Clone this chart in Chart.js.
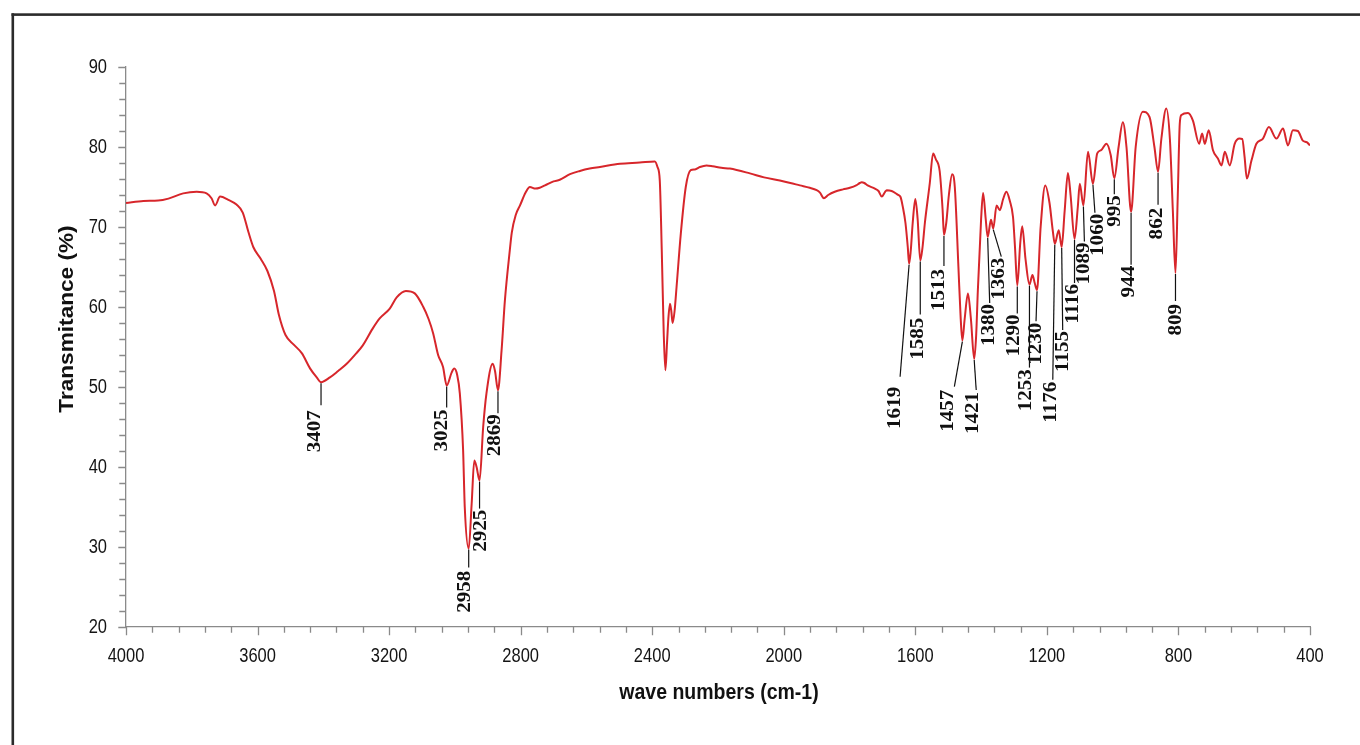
<!DOCTYPE html>
<html><head><meta charset="utf-8">
<script src="https://cdn.jsdelivr.net/npm/chart.js@4.4.0/dist/chart.umd.min.js"></script>
<style>html,body{margin:0;padding:0;background:#fff;}#wrap{width:1360px;height:745px;position:relative}</style>
</head><body><div id="wrap"><canvas id="c" width="1360" height="745"></canvas></div>
<script>
// ---- data ----
const wavenumbers = [
4000,3947,3902,3871,3826,3785,3755,3740,3729,3714,3689,3664,3645,3628,3613,3590,3570,3550,3535,3515,
3490,3465,3440,3420,3407,3380,3355,3329,3300,3280,3250,3228,3198,3177,3149,3122,3096,3080,3066,3051,
3036,3025,3010,3002,2993,2985,2975,2970,2958,2949,2941,2934,2925,2914,2904,2885,2878,2869,2858,2848,
2833,2827,2815,2802,2785,2772,2755,2742,2726,2700,2681,2650,2620,2590,2559,2498,2438,2392,2384,2377,
2371,2365,2360,2355,2351,2346,2342,2338,2332,2326,2313,2298,2283,2270,2255,2235,2216,2190,2164,2103,
2060,2012,1980,1951,1921,1900,1890,1878,1865,1845,1820,1799,1780,1769,1763,1755,1745,1723,1712,1702,
1692,1687,1672,1654,1645,1638,1630,1623,1619,1614,1608,1600,1593,1585,1578,1571,1556,1546,1538,1526,
1517,1513,1506,1498,1488,1480,1469,1462,1457,1450,1440,1431,1421,1415,1410,1400,1394,1386,1380,1370,
1363,1353,1343,1333,1323,1313,1303,1297,1290,1281,1275,1265,1253,1244,1237,1230,1219,1205,1192,1182,
1176,1164,1155,1146,1136,1128,1116,1106,1100,1089,1075,1060,1047,1035,1019,1006,995,982,969,958,
944,930,908,888,873,862,852,837,826,817,809,802,796,791,771,756,737,728,720,708,
695,680,669,659,644,629,614,606,599,592,578,563,543,525,502,482,467,452,437,422,
410,400];
const transmittance = [
73.0,73.25,73.3,73.55,74.2,74.4,74.2,73.6,72.7,73.8,73.4,72.8,71.8,69.4,67.5,66.0,64.5,62.0,59.0,56.5,
55.3,54.2,52.3,51.2,50.6,51.2,52.0,52.9,54.2,55.2,57.3,58.6,59.8,61.2,62.0,61.7,60.0,58.5,56.7,54.0,
52.5,50.2,51.8,52.3,51.5,49.2,42.1,35.0,29.8,35.4,40.8,40.0,38.3,45.0,49.2,52.9,52.0,49.6,54.6,60.8,
67.1,69.3,71.5,72.7,74.3,75.0,74.8,74.9,75.2,75.7,75.9,76.6,77.0,77.3,77.5,77.9,78.05,78.2,77.5,75.8,
67.1,56.7,52.1,55.5,58.5,60.4,59.5,58.0,59.5,62.5,69.2,75.0,77.1,77.2,77.5,77.7,77.6,77.4,77.3,76.7,
76.2,75.8,75.5,75.2,74.9,74.6,74.3,73.6,74.0,74.4,74.7,74.9,75.2,75.5,75.6,75.5,75.2,74.8,74.5,73.8,
74.4,74.6,74.5,74.05,73.75,72.5,70.5,67.5,65.4,67.0,70.5,73.5,71.0,65.8,67.5,70.5,75.5,79.2,78.5,77.0,
72.1,69.0,70.5,74.0,76.6,75.0,65.0,58.5,55.8,58.5,61.7,58.5,53.5,56.5,62.0,71.0,74.25,71.0,68.75,70.9,
69.8,72.7,72.1,73.5,74.4,73.3,71.25,67.5,62.7,68.0,70.1,66.0,62.8,64.0,63.0,62.1,70.0,75.2,73.0,69.5,
67.9,69.6,67.5,72.0,76.75,74.0,68.5,72.5,75.4,72.7,79.4,75.4,79.2,79.6,80.4,79.0,76.1,80.0,83.1,80.0,
71.9,80.0,84.4,83.75,80.0,76.9,81.0,84.8,81.0,72.0,64.25,74.0,82.9,84.0,84.25,83.3,80.4,81.7,80.4,82.1,
79.6,78.55,77.7,79.4,77.7,80.4,81.05,81.0,78.8,76.05,78.3,80.4,81.05,82.5,81.05,82.3,80.2,82.1,82.0,80.8,
80.6,80.2];
const xTickLabels = [4000,3600,3200,2800,2400,2000,1600,1200,800,400];
const yTickLabels = [20,30,40,50,60,70,80,90];
const peakLabels = [3407,3025,2958,2925,2869,1619,1585,1513,1457,1421,1380,1363,1290,1253,1230,1176,1155,1116,1089,1060,995,944,862,809];

// ---- label layout (pixel offsets: leader dx, leader length, label dx, label gap) ----
const peakLayout = [
 [0,22,-5.5,5],[0,21,-4.7,2],[0,18,-3.2,3],[0,27,1.7,1],[0,22,-2.5,1],
 [-9,112,-5,10],[0,53,-2.4,3],[0,30,-4.6,3],[-8,45,-5.7,3],[2,30,-3,2],
 [2,65,0,1],[8,27,-2.4,1],[0,27,-2.7,1],[0,82,-3.3,1.5],[-1,30,0,1.5],
 [-2,135,-1.6,2],[1,82,0.7,1],[0,43,-0.7,1],[1,35,0,1],[2,28,3.3,1],
 [0,15,0.7,1],[0,52,-1.7,1],[0,32,-1,3],[0,27,1,3]
];

const AXIS_COLOR = '#8a8a8a';
const TICK_FONT = '16.5px "Liberation Sans", Arial, sans-serif';

const framePlugin = {
  id: 'frame',
  beforeDraw(chart) {
    const ctx = chart.ctx;
    ctx.save();
    ctx.fillStyle = '#ffffff';
    ctx.fillRect(0, 0, chart.width, chart.height);
    ctx.fillStyle = '#2b2b2b';
    ctx.fillRect(11.5, 13.3, 2.6, chart.height);
    ctx.fillRect(11.5, 13.3, chart.width, 2.6);
    ctx.restore();
  },
  afterDraw(chart) {
    const ctx = chart.ctx;
    const xs = chart.scales.x, ys = chart.scales.y;
    const area = chart.chartArea;
    ctx.save();
    // tick marks
    ctx.strokeStyle = AXIS_COLOR;
    ctx.lineWidth = 1.3;
    ctx.beginPath();
    xs.ticks.forEach(t => {
      const px = Math.round(xs.getPixelForValue(t.value)) + 0.5;
      const len = xTickLabels.includes(t.value) ? 8.3 : 5.8;
      ctx.moveTo(px, area.bottom);
      ctx.lineTo(px, area.bottom + len);
    });
    ys.ticks.forEach(t => {
      const py = Math.round(ys.getPixelForValue(t.value)) + 0.5;
      const len = yTickLabels.includes(t.value) ? 7.7 : 6.7;
      ctx.moveTo(area.left, py);
      ctx.lineTo(area.left - len, py);
    });
    ctx.stroke();

    // tick labels (slightly tall, like the original)
    ctx.fillStyle = '#141414';
    ctx.font = TICK_FONT;
    ctx.textBaseline = 'middle';
    xTickLabels.forEach(v => {
      ctx.save();
      ctx.translate(xs.getPixelForValue(v), 657);
      ctx.scale(1, 1.18);
      ctx.textAlign = 'center';
      ctx.fillText(String(v), 0, 0);
      ctx.restore();
    });
    yTickLabels.forEach(v => {
      ctx.save();
      ctx.translate(107, ys.getPixelForValue(v) + 1);
      ctx.scale(1, 1.18);
      ctx.textAlign = 'right';
      ctx.fillText(String(v), 0, 0);
      ctx.restore();
    });

    // axis titles
    ctx.fillStyle = '#111';
    ctx.font = 'bold 19.5px "Liberation Sans", Arial, sans-serif';
    ctx.textAlign = 'center';
    ctx.textBaseline = 'middle';
    ctx.save();
    ctx.translate((area.left + area.right) / 2 + 1, 693);
    ctx.scale(1, 1.1);
    ctx.fillText('wave numbers (cm-1)', 0, 0);
    ctx.restore();
    ctx.save();
    ctx.translate(67, 319);
    ctx.rotate(-Math.PI / 2);
    ctx.scale(1.16, 1.05);
    ctx.fillText('Transmitance (%)', 0, 0);
    ctx.restore();

    // peak labels
    ctx.strokeStyle = '#111';
    ctx.lineWidth = 1.2;
    ctx.fillStyle = '#111';
    ctx.font = 'bold 18px "Liberation Serif", "Times New Roman", serif';
    peakLabels.forEach((w, i) => {
      const idx = wavenumbers.indexOf(w);
      const v = transmittance[idx];
      const [ldx, llen, tdx, gap] = peakLayout[i];
      const x0 = xs.getPixelForValue(w);
      const y0 = ys.getPixelForValue(v) + 1;
      const x1 = x0 + ldx, y1 = y0 + llen;
      ctx.beginPath();
      ctx.moveTo(x0, y0);
      ctx.lineTo(x1, y1);
      ctx.stroke();
      ctx.save();
      ctx.translate(x1 + tdx, y1 + gap);
      ctx.rotate(-Math.PI / 2);
      ctx.scale(1.17, 1);
      ctx.textAlign = 'right';
      ctx.textBaseline = 'middle';
      ctx.fillText(String(w), 0, 0);
      ctx.restore();
    });
    ctx.restore();
  }
};

const points = wavenumbers.map((w, i) => ({ x: w, y: transmittance[i] }));

new Chart(document.getElementById('c'), {
  type: 'line',
  data: {
    datasets: [{
      data: points,
      borderColor: '#d7262b',
      borderWidth: 2,
      pointRadius: 0,
      fill: false,
      cubicInterpolationMode: 'monotone'
    }]
  },
  options: {
    responsive: false,
    animation: false,
    events: [],
    layout: { padding: { top: 67, right: 50, bottom: 0, left: 0 } },
    plugins: { legend: { display: false }, tooltip: { enabled: false } },
    scales: {
      x: {
        type: 'linear',
        reverse: true,
        min: 400, max: 4000,
        afterFit(s) { s.height = 118; },
        border: { display: true, color: AXIS_COLOR, width: 1.3 },
        grid: { display: true, drawOnChartArea: false, drawTicks: true, tickLength: 8, tickColor: 'rgba(0,0,0,0)' },
        ticks: { stepSize: 80, autoSkip: false, maxRotation: 0, display: false }
      },
      y: {
        min: 20, max: 90,
        afterFit(s) { s.width = 126; },
        border: { display: true, color: AXIS_COLOR, width: 1.3 },
        grid: { display: true, drawOnChartArea: false, drawTicks: true, tickLength: 8, tickColor: 'rgba(0,0,0,0)' },
        ticks: { stepSize: 2, autoSkip: false, display: false }
      }
    }
  },
  plugins: [framePlugin]
});
</script>
</body></html>
